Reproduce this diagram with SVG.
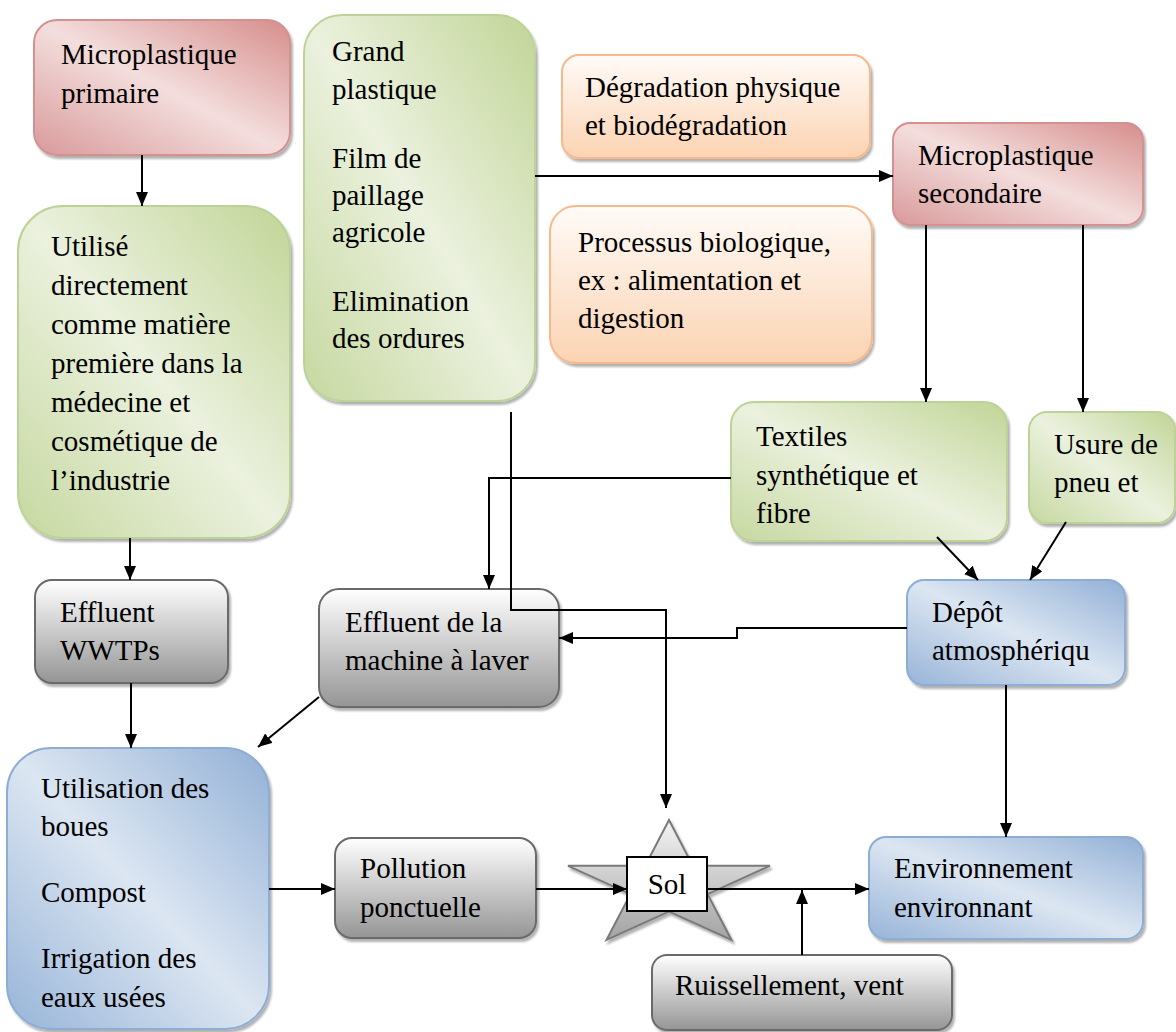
<svg xmlns="http://www.w3.org/2000/svg" width="1176" height="1032" viewBox="0 0 1176 1032" font-family="Liberation Serif, Times New Roman, DejaVu Serif, serif">
<style>
.t{font-size:29px;fill:#000}
.pink{fill:url(#gPink);stroke:#d39290;stroke-width:2}
.green{fill:url(#gGreen);stroke:#bdd296;stroke-width:2}
.blue{fill:url(#gBlue);stroke:#8eadd4;stroke-width:2}
.orange{fill:url(#gOrange);stroke:#f7b98b;stroke-width:2}
.gray{fill:url(#gGray);stroke:#6b6b6b;stroke-width:2}
.sh{filter:url(#shadow)}
.c{fill:none;stroke:#000;stroke-width:2}
.a{marker-end:url(#ah)}
</style>
<defs>
<filter id="shadow" x="-10%" y="-10%" width="125%" height="125%">
<feDropShadow dx="2" dy="3" stdDeviation="1.2" flood-color="#000" flood-opacity="0.3"/>
</filter>
<linearGradient id="gPink" x1="1" y1="0" x2="0" y2="1">
<stop offset="0" stop-color="#d68d8b"/><stop offset="0.5" stop-color="#f3dedd"/><stop offset="1" stop-color="#d9999a"/>
</linearGradient>
<linearGradient id="gGreen" x1="1" y1="0" x2="0" y2="1">
<stop offset="0" stop-color="#c1d597"/><stop offset="0.5" stop-color="#ebf1de"/><stop offset="1" stop-color="#c6d8a0"/>
</linearGradient>
<linearGradient id="gBlue" x1="1" y1="0" x2="0" y2="1">
<stop offset="0" stop-color="#92b0d6"/><stop offset="0.5" stop-color="#dce6f2"/><stop offset="1" stop-color="#97b4d8"/>
</linearGradient>
<linearGradient id="gOrange" x1="0" y1="0" x2="0" y2="1">
<stop offset="0" stop-color="#fffbf8"/><stop offset="1" stop-color="#fbd3b2"/>
</linearGradient>
<linearGradient id="gGray" x1="0" y1="0" x2="0" y2="1">
<stop offset="0" stop-color="#ffffff"/><stop offset="1" stop-color="#959595"/>
</linearGradient>
<linearGradient id="gStar" x1="0" y1="0" x2="0" y2="1">
<stop offset="0" stop-color="#f4f4f4"/><stop offset="1" stop-color="#a3a3a3"/>
</linearGradient>
<marker id="ah" viewBox="0 0 14 12" refX="14" refY="6" markerWidth="14" markerHeight="12" orient="auto" markerUnits="userSpaceOnUse">
<path d="M0,0 L14,6 L0,12 z" fill="#000"/>
</marker>
</defs>

<g id="microplastique-primaire">
<rect class="pink sh" x="34" y="20" width="256" height="135" rx="23"/>
<text class="t" x="61" y="64">Microplastique</text>
<text class="t" x="61" y="103">primaire</text>
</g>

<g id="grand-plastique">
<rect class="green sh" x="304" y="15" width="231" height="386" rx="38"/>
<text class="t" x="332" y="61">Grand</text>
<text class="t" x="332" y="99">plastique</text>
<text class="t" x="332" y="168">Film de</text>
<text class="t" x="332" y="205">paillage</text>
<text class="t" x="332" y="242">agricole</text>
<text class="t" x="332" y="311">Elimination</text>
<text class="t" x="332" y="348">des ordures</text>
</g>

<g id="degradation">
<rect class="orange sh" x="562" y="55" width="308" height="103" rx="17"/>
<text class="t" x="585" y="97">Dégradation physique</text>
<text class="t" x="585" y="135">et biodégradation</text>
</g>

<g id="processus">
<rect class="orange sh" x="550" y="206" width="322" height="157" rx="26"/>
<text class="t" x="578" y="252">Processus biologique,</text>
<text class="t" x="578" y="290">ex : alimentation et</text>
<text class="t" x="578" y="328">digestion</text>
</g>

<g id="microplastique-secondaire">
<rect class="pink sh" x="893" y="123" width="250" height="102" rx="17"/>
<text class="t" x="918" y="165">Microplastique</text>
<text class="t" x="918" y="203">secondaire</text>
</g>

<g id="utilise">
<rect class="green sh" x="18" y="206" width="272" height="332" rx="45"/>
<text class="t" x="51" y="256">Utilisé</text>
<text class="t" x="51" y="295">directement</text>
<text class="t" x="51" y="334">comme matière</text>
<text class="t" x="51" y="373">première dans la</text>
<text class="t" x="51" y="412">médecine et</text>
<text class="t" x="51" y="451">cosmétique de</text>
<text class="t" x="51" y="490">l’industrie</text>
</g>

<g id="textiles">
<rect class="green sh" x="731" y="402" width="276" height="139" rx="23"/>
<text class="t" x="756" y="446">Textiles</text>
<text class="t" x="756" y="485">synthétique et</text>
<text class="t" x="756" y="523">fibre</text>
</g>

<g id="usure">
<rect class="green sh" x="1029" y="412" width="146" height="111" rx="18"/>
<text class="t" x="1054" y="454">Usure de</text>
<text class="t" x="1054" y="492">pneu et</text>
</g>

<g id="effluent-wwtps">
<rect class="gray sh" x="35" y="580" width="193" height="103" rx="17"/>
<text class="t" x="60" y="622">Effluent</text>
<text class="t" x="60" y="660">WWTPs</text>
</g>

<g id="effluent-machine">
<rect class="gray sh" x="319" y="589" width="240" height="118" rx="20"/>
<text class="t" x="345" y="632">Effluent de la</text>
<text class="t" x="345" y="670">machine à laver</text>
</g>

<g id="depot">
<rect class="blue sh" x="907" y="580" width="218" height="105" rx="17"/>
<text class="t" x="932" y="622">Dépôt</text>
<text class="t" x="932" y="660">atmosphériqu</text>
</g>

<g id="utilisation-boues">
<rect class="blue sh" x="7" y="748" width="262" height="281" rx="44"/>
<text class="t" x="41" y="798">Utilisation des</text>
<text class="t" x="41" y="836">boues</text>
<text class="t" x="41" y="902">Compost</text>
<text class="t" x="41" y="968">Irrigation des</text>
<text class="t" x="41" y="1007">eaux usées</text>
</g>

<g id="pollution">
<rect class="gray sh" x="335" y="838" width="201" height="100" rx="17"/>
<text class="t" x="360" y="878">Pollution</text>
<text class="t" x="360" y="917">ponctuelle</text>
</g>

<g id="sol">
<polygon class="sh" points="669,820 692.8,865.8 770,865.8 707.6,894.1 731.5,940 669,911.6 606.5,940 630.4,894.1 568,865.8 645.2,865.8" fill="url(#gStar)" stroke="#7a7a7a" stroke-width="2"/>
<rect x="627" y="857" width="80" height="54" fill="#fff" stroke="#000" stroke-width="2"/>
<text class="t" x="667" y="894" text-anchor="middle">Sol</text>
</g>

<g id="environnement">
<rect class="blue sh" x="869" y="837" width="274" height="102" rx="17"/>
<text class="t" x="894" y="878">Environnement</text>
<text class="t" x="894" y="917">environnant</text>
</g>

<g id="ruissellement">
<rect class="gray sh" x="652" y="955" width="300" height="75" rx="15"/>
<text class="t" x="675" y="995">Ruissellement, vent</text>
</g>

<g id="connectors">
<path class="c a" d="M142,155 V206"/>
<path class="c a" d="M130,538 V580"/>
<path class="c a" d="M131,683 V748"/>
<path class="c a" d="M319,697 L258,747"/>
<path class="c a" d="M269,889 H335"/>
<path class="c a" d="M536,889 H627"/>
<path class="c a" d="M707,889 H869"/>
<path class="c a" d="M802,955 V890"/>
<path class="c a" d="M1006,685 V837"/>
<path class="c a" d="M907,628 H737 V638 H559"/>
<path class="c a" d="M511,412 V610 H666 V808"/>
<path class="c a" d="M731,478 H489 V589"/>
<path class="c a" d="M535,176 H893"/>
<path class="c a" d="M926,225 V402"/>
<path class="c a" d="M1083,225 V412"/>
<path class="c a" d="M937,537 L978,580"/>
<path class="c a" d="M1066,522 L1030,580"/>
</g>
</svg>
